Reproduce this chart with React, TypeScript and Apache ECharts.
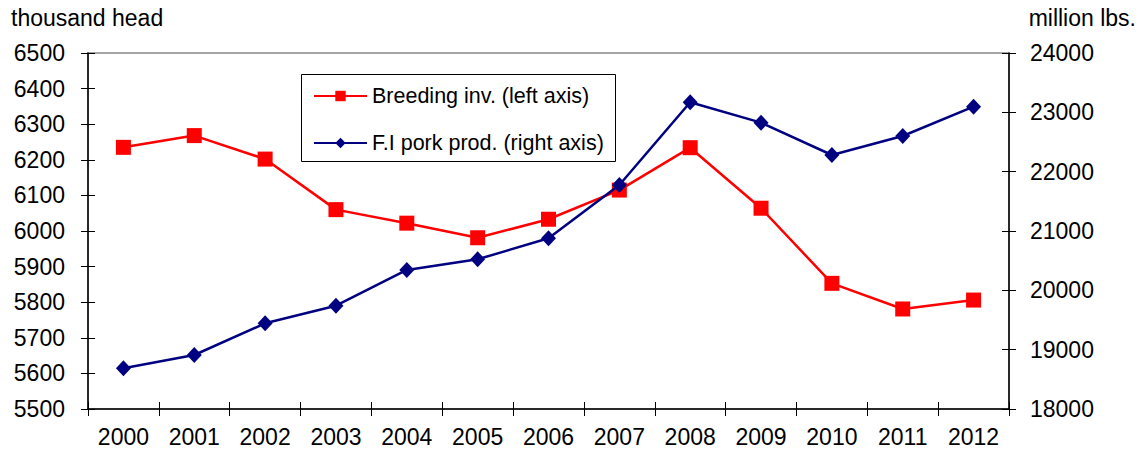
import React, { useEffect, useRef } from "react";
import * as echarts from "echarts";

const years = ["2000","2001","2002","2003","2004","2005","2006","2007","2008","2009","2010","2011","2012"];
const breedingInv = [6235, 6268, 6202, 6060, 6022, 5981, 6033, 6115, 6234, 6064, 5853, 5781, 5806];
const porkProd = [18686, 18910, 19444, 19741, 20343, 20523, 20877, 21775, 23169, 22826, 22281, 22601, 23095];
const leftName = "thousand head";
const rightName = "million lbs.";
const breedingLabel = "Breeding inv. (left axis)";
const porkLabel = "F.I pork prod. (right axis)";

const FONT = "'Liberation Sans', Arial, sans-serif";

export default function App() {
  const ref = useRef<HTMLDivElement>(null);
  useEffect(() => {
    if (!ref.current) return;
    const chart = echarts.init(ref.current, null, { renderer: "svg" });
    const labelStyle = { color: "#000", fontSize: 23, fontFamily: FONT, formatter: (v: any) => String(v) };
    chart.setOption({
      animation: false,
      backgroundColor: "#fff",
      textStyle: { fontFamily: FONT },
      grid: { left: 88, right: 130, top: 53, bottom: 41, show: true, borderColor: "#888", borderWidth: 1.5, backgroundColor: "transparent" },
      legend: {
        left: 313,
        top: 85,
        orient: "vertical",
        itemWidth: 53,
        itemHeight: 13,
        itemGap: 25,
        padding: 0,
        textStyle: { color: "#000", fontSize: 21.5, fontFamily: FONT },
        data: [breedingLabel, porkLabel],
      },
      graphic: [
        { type: "rect", shape: { x: 301.5, y: 74.5, width: 314, height: 87 }, style: { fill: "none", stroke: "#000", lineWidth: 1 }, z: 100 },
        { type: "text", x: 11, y: 6, style: { text: leftName, fill: "#000", fontSize: 23, fontFamily: FONT } },
        { type: "text", x: 1136, y: 6, style: { text: rightName, fill: "#000", fontSize: 23, fontFamily: FONT, align: "right" } },
      ],
      xAxis: [
        {
          type: "category",
          data: years,
          boundaryGap: true,
          position: "bottom",
          axisLine: { show: true, lineStyle: { color: "#000", width: 1.5 } },
          axisTick: { show: true, length: 7, lineStyle: { color: "#000" } },
          axisLabel: { color: "#000", fontSize: 23, fontFamily: FONT, margin: 16, interval: 0 },
          splitLine: { show: false },
        },
        {
          type: "category",
          data: years,
          boundaryGap: true,
          position: "bottom",
          axisLine: { show: false },
          axisTick: { show: true, inside: true, length: 7, lineStyle: { color: "#000" } },
          axisLabel: { show: false },
          splitLine: { show: false },
        },
      ],
      yAxis: [
        {
          type: "value",
          position: "left",
          min: 5500,
          max: 6500,
          interval: 100,
          axisLine: { show: true, lineStyle: { color: "#000", width: 1.5 } },
          axisTick: { show: true, length: 7, lineStyle: { color: "#000" } },
          axisLabel: { ...labelStyle, margin: 23 },
          splitLine: { show: false },
        },
        {
          type: "value",
          position: "right",
          min: 18000,
          max: 24000,
          interval: 1000,
          axisLine: { show: true, lineStyle: { color: "#000", width: 1.5 } },
          axisTick: { show: true, length: 7, lineStyle: { color: "#000" } },
          axisLabel: { ...labelStyle, margin: 21 },
          splitLine: { show: false },
        },
        {
          type: "value",
          position: "left",
          min: 5500,
          max: 6500,
          interval: 100,
          axisLine: { show: false },
          axisTick: { show: true, inside: true, length: 7, lineStyle: { color: "#000" } },
          axisLabel: { show: false },
          splitLine: { show: false },
        },
        {
          type: "value",
          position: "right",
          min: 18000,
          max: 24000,
          interval: 1000,
          axisLine: { show: false },
          axisTick: { show: true, inside: true, length: 7, lineStyle: { color: "#000" } },
          axisLabel: { show: false },
          splitLine: { show: false },
        },
      ],
      series: [
        {
          name: breedingLabel,
          type: "line",
          xAxisIndex: 0,
          yAxisIndex: 0,
          data: breedingInv,
          symbol: "rect",
          symbolSize: 15,
          showAllSymbol: true,
          lineStyle: { color: "#ff0000", width: 2.5 },
          itemStyle: { color: "#ff0000" },
          z: 3,
        },
        {
          name: porkLabel,
          type: "line",
          xAxisIndex: 0,
          yAxisIndex: 1,
          data: porkProd,
          symbol: "diamond",
          symbolSize: [15, 16],
          showAllSymbol: true,
          lineStyle: { color: "#000080", width: 2.5 },
          itemStyle: { color: "#000080" },
          z: 4,
        },
      ],
    });
    return () => chart.dispose();
  }, []);
  return <div ref={ref} style={{ position: "absolute", left: 0, top: 0, width: 1139, height: 450 }} />;
}
